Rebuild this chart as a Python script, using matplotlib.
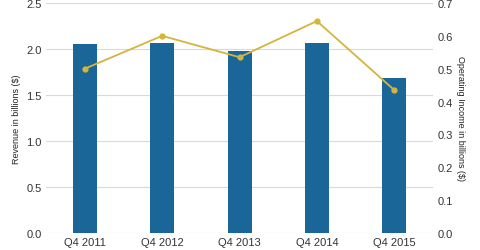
import matplotlib.pyplot as plt
import numpy as np

plt.rcParams['font.family'] = ['Liberation Sans', 'DejaVu Sans']

quarters = ['Q4 2011', 'Q4 2012', 'Q4 2013', 'Q4 2014', 'Q4 2015']
revenue = [2.05, 2.07, 1.98, 2.07, 1.69]
op_income = [0.50, 0.60, 0.535, 0.645, 0.435]

fig, ax = plt.subplots(figsize=(4.8, 2.51), dpi=100)
fig.subplots_adjust(left=0.096, right=0.902, top=0.984, bottom=0.068)

x = np.arange(len(quarters))
ax.bar(x, revenue, width=0.31, color='#1b6698', zorder=2)
ax.set_xlim(-0.5, len(quarters) - 0.5)
ax.set_ylim(0, 2.5)
ax.set_yticks(np.arange(0, 2.51, 0.5))
ax.set_xticks(x)
ax.set_xticklabels(quarters)
ax.grid(axis='y', color='#d9d9d9', linewidth=0.8, zorder=0)
ax.set_ylabel('Revenue in billions ($)', fontsize=6.5, color='#222222', labelpad=4)

ax2 = ax.twinx()
ax2.plot(x, op_income, color='#d4b53c', linewidth=1.3, marker='o', markersize=3.5, zorder=3)
ax2.set_ylim(0, 0.7)
ax2.set_yticks(np.arange(0, 0.71, 0.1))
ax2.set_ylabel('Operating Income in billions ($)', fontsize=6.5, color='#222222',
               rotation=270, labelpad=9)

for a in (ax, ax2):
    for s in a.spines.values():
        s.set_visible(False)
    a.tick_params(length=0, labelsize=8, colors='#333333', pad=3)

plt.savefig('out.png', dpi=100)
